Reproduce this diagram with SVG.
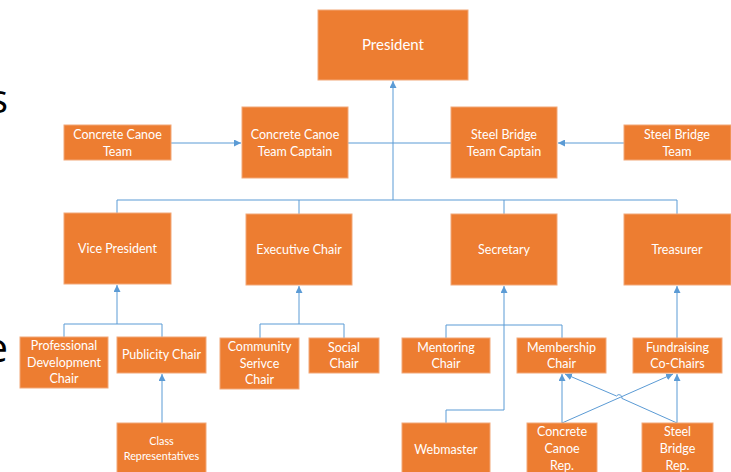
<svg xmlns="http://www.w3.org/2000/svg" width="731" height="472" viewBox="0 0 731 472">
<style>
.box{fill:#ED7D31;stroke:#F2A878;stroke-width:1}
.t{fill:#ffffff;font-family:Lato,"Open Sans","Liberation Sans",sans-serif;font-size:12.5px;text-anchor:middle}
.big{font-size:15px}
.sm{font-size:10.8px}
.c{fill:none;stroke:#5B9BD5;stroke-width:1}
.bg{fill:#000;font-family:"Open Sans","Liberation Sans",sans-serif;font-size:40px;text-anchor:end}
</style>
<defs>
<marker id="ar" markerUnits="userSpaceOnUse" markerWidth="7" markerHeight="7" viewBox="0 0 7 7" refX="7" refY="3.5" orient="auto">
<path d="M0,0 L7,3.5 L0,7 Z" fill="#5B9BD5"/>
</marker>
</defs>
<text class="bg" x="8" y="113">s</text>
<text class="bg" x="8" y="362">e</text>
<g id="connectors">
<path class="c" d="M393,200 V81" stroke-width="1.6" marker-end="url(#ar)"/>
<path class="c" d="M117,213 V200 H677 V214"/>
<path class="c" d="M299,200 V214"/>
<path class="c" d="M504,200 V214"/>
<path class="c" d="M171,143 H241" marker-end="url(#ar)"/>
<path class="c" d="M348,143 H451"/>
<path class="c" d="M624,143 H558" marker-end="url(#ar)"/>
<path class="c" d="M64,337 V324 H162 V337"/>
<path class="c" d="M117,324 V285" marker-end="url(#ar)"/>
<path class="c" d="M162,423 V374" marker-end="url(#ar)"/>
<path class="c" d="M260,338 V324 H344 V338"/>
<path class="c" d="M299,324 V286" marker-end="url(#ar)"/>
<path class="c" d="M446,338 V325 H562 V338"/>
<path class="c" d="M446,423 V410 H504 V286" marker-end="url(#ar)"/>
<path class="c" d="M677,338 V286" marker-end="url(#ar)"/>
<path class="c" d="M562,423 V374" marker-end="url(#ar)"/>
<path class="c" d="M677,423 V374" marker-end="url(#ar)"/>
<path class="c" d="M562,423 L673,374" marker-end="url(#ar)"/>
<path class="c" d="M677,423 L621.9,398.4 A3,3 0 0 0 616.5,396 L565,374" marker-end="url(#ar)"/>
</g>
<g id="president"><rect class="box" x="318" y="10" width="150" height="70"/><text class="t big" x="393" y="50">President</text></g>
<g id="cc-team"><rect class="box" x="64" y="125" width="107" height="35"/><text class="t" x="117.5" y="139">Concrete Canoe<tspan x="117.5" dy="16.5">Team</tspan></text></g>
<g id="cc-captain"><rect class="box" x="242" y="107" width="106" height="71"/><text class="t" x="295" y="139">Concrete Canoe<tspan x="295" dy="16.5">Team Captain</tspan></text></g>
<g id="sb-captain"><rect class="box" x="451" y="107" width="106" height="71"/><text class="t" x="504" y="139">Steel Bridge<tspan x="504" dy="16.5">Team Captain</tspan></text></g>
<g id="sb-team"><rect class="box" x="624" y="125" width="107" height="35"/><text class="t" x="677" y="139">Steel Bridge<tspan x="677" dy="16.5">Team</tspan></text></g>
<g id="vp"><rect class="box" x="64" y="213" width="107" height="71"/><text class="t" x="117.5" y="253">Vice President</text></g>
<g id="exec"><rect class="box" x="246" y="214" width="106" height="71"/><text class="t" x="299" y="254">Executive Chair</text></g>
<g id="secretary"><rect class="box" x="451" y="214" width="106" height="71"/><text class="t" x="504" y="254">Secretary</text></g>
<g id="treasurer"><rect class="box" x="624" y="214" width="107" height="71"/><text class="t" x="677" y="254">Treasurer</text></g>
<g id="pdc"><rect class="box" x="20" y="337" width="88" height="51"/><text class="t" x="64" y="350">Professional<tspan x="64" dy="16.5">Development</tspan><tspan x="64" dy="16.5">Chair</tspan></text></g>
<g id="publicity"><rect class="box" x="117" y="337" width="89" height="36"/><text class="t" x="161.5" y="359">Publicity Chair</text></g>
<g id="community"><rect class="box" x="220" y="338" width="79" height="51"/><text class="t" x="259.5" y="351">Community<tspan x="259.5" dy="16.5">Serivce</tspan><tspan x="259.5" dy="16.5">Chair</tspan></text></g>
<g id="social"><rect class="box" x="309" y="338" width="70" height="35"/><text class="t" x="344" y="351.5">Social<tspan x="344" dy="16.5">Chair</tspan></text></g>
<g id="mentoring"><rect class="box" x="402" y="338" width="88" height="35"/><text class="t" x="446" y="351.5">Mentoring<tspan x="446" dy="16.5">Chair</tspan></text></g>
<g id="membership"><rect class="box" x="517" y="338" width="89" height="35"/><text class="t" x="561.5" y="351.5">Membership<tspan x="561.5" dy="16.5">Chair</tspan></text></g>
<g id="fundraising"><rect class="box" x="633" y="338" width="89" height="35"/><text class="t" x="677.5" y="351.5">Fundraising<tspan x="677.5" dy="16.5">Co-Chairs</tspan></text></g>
<g id="class-reps"><rect class="box" x="117" y="423" width="89" height="56"/><text class="t sm" x="161.5" y="444.5">Class<tspan x="161.5" dy="15">Representatives</tspan></text></g>
<g id="webmaster"><rect class="box" x="402" y="423" width="88" height="56"/><text class="t" x="446" y="454">Webmaster</text></g>
<g id="cc-rep"><rect class="box" x="527" y="423" width="70" height="56"/><text class="t" x="562" y="436">Concrete<tspan x="562" dy="17">Canoe</tspan><tspan x="562" dy="17">Rep.</tspan></text></g>
<g id="sb-rep"><rect class="box" x="642" y="423" width="71" height="56"/><text class="t" x="677.5" y="436">Steel<tspan x="677.5" dy="17">Bridge</tspan><tspan x="677.5" dy="17">Rep.</tspan></text></g>
</svg>
